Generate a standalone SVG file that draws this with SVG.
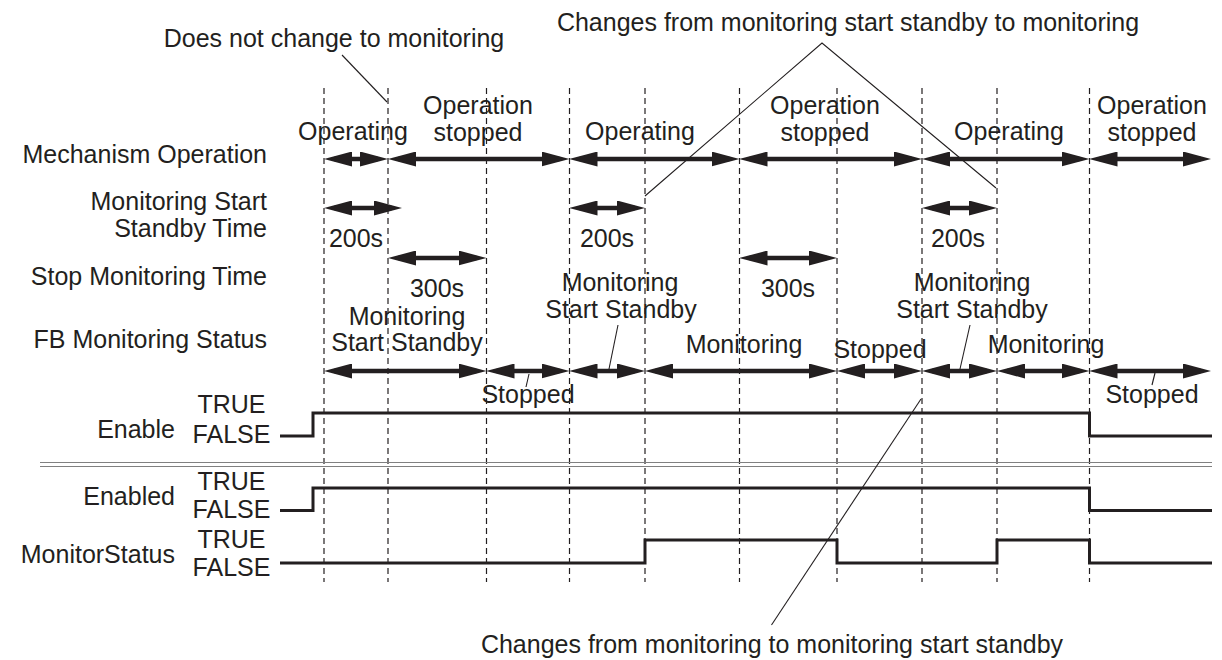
<svg xmlns="http://www.w3.org/2000/svg" width="1222" height="660" viewBox="0 0 1222 660">
<style>
text{font-family:"Liberation Sans",Arial,Helvetica,sans-serif;font-size:25px;fill:#231f20}
.m{text-anchor:middle}
.e{text-anchor:end}
.dash{stroke:#231f20;stroke-width:1.2;stroke-dasharray:6 4;fill:none}
.arr{stroke:#231f20;stroke-width:4.5;fill:none;marker-start:url(#ahs);marker-end:url(#ahe)}
.sig{stroke:#231f20;stroke-width:3;fill:none}
.lead{stroke:#231f20;stroke-width:1.1;fill:none}
.sep{stroke:#808080;stroke-width:1.2}
</style>
<defs>
<marker id="ahe" viewBox="0 0 28 15" refX="18" refY="7.5" markerWidth="28" markerHeight="15" markerUnits="userSpaceOnUse" orient="auto"><path d="M0,0 L28,7.5 L0,15 z" fill="#231f20"/></marker>
<marker id="ahs" viewBox="0 0 28 15" refX="10" refY="7.5" markerWidth="28" markerHeight="15" markerUnits="userSpaceOnUse" orient="auto"><path d="M28,0 L0,7.5 L28,15 z" fill="#231f20"/></marker>
</defs>

<g id="grid">
<line class="dash" x1="324" y1="88" x2="324" y2="582"/>
<line class="dash" x1="388" y1="88" x2="388" y2="582"/>
<line class="dash" x1="486.5" y1="88" x2="486.5" y2="582"/>
<line class="dash" x1="569.5" y1="88" x2="569.5" y2="582"/>
<line class="dash" x1="645" y1="88" x2="645" y2="582"/>
<line class="dash" x1="739.5" y1="88" x2="739.5" y2="582"/>
<line class="dash" x1="837" y1="88" x2="837" y2="582"/>
<line class="dash" x1="922" y1="88" x2="922" y2="582"/>
<line class="dash" x1="997" y1="88" x2="997" y2="582"/>
<line class="dash" x1="1089.5" y1="88" x2="1089.5" y2="582"/>
</g>

<g id="row-labels">
<text class="e" x="267" y="163">Mechanism Operation</text>
<text class="e" x="267" y="210">Monitoring Start</text>
<text class="e" x="267" y="237">Standby Time</text>
<text class="e" x="267" y="285">Stop Monitoring Time</text>
<text class="e" x="267" y="348">FB Monitoring Status</text>
<text class="e" x="175" y="438">Enable</text>
<text class="e" x="175" y="505">Enabled</text>
<text class="e" x="175" y="563">MonitorStatus</text>
<text class="m" x="231.5" y="413">TRUE</text>
<text class="m" x="231.5" y="443">FALSE</text>
<text class="m" x="231.5" y="490">TRUE</text>
<text class="m" x="231.5" y="518">FALSE</text>
<text class="m" x="231.5" y="548">TRUE</text>
<text class="m" x="231.5" y="576">FALSE</text>
</g>

<g id="mechanism-operation">
<text class="m" x="353" y="140">Operating</text>
<text class="m" x="478" y="114">Operation</text>
<text class="m" x="478" y="141">stopped</text>
<text class="m" x="640" y="140">Operating</text>
<text class="m" x="825" y="114">Operation</text>
<text class="m" x="825" y="141">stopped</text>
<text class="m" x="1009" y="140">Operating</text>
<text class="m" x="1152" y="114">Operation</text>
<text class="m" x="1152" y="141">stopped</text>
</g>

<g id="standby-time">
<text class="m" x="356" y="247">200s</text>
<text class="m" x="607" y="247">200s</text>
<text class="m" x="958" y="247">200s</text>
</g>

<g id="stop-monitoring-time">
<text class="m" x="437" y="297">300s</text>
<text class="m" x="788" y="297">300s</text>
</g>

<g id="fb-status">
<text class="m" x="407" y="325">Monitoring</text>
<text class="m" x="407" y="351">Start Standby</text>
<text class="m" x="528" y="403">Stopped</text>
<text class="m" x="620" y="291">Monitoring</text>
<text class="m" x="621" y="318">Start Standby</text>
<text class="m" x="744" y="353">Monitoring</text>
<text class="m" x="880" y="358">Stopped</text>
<text class="m" x="972" y="291">Monitoring</text>
<text class="m" x="972" y="318">Start Standby</text>
<text class="m" x="1046" y="353">Monitoring</text>
<text class="m" x="1152" y="403">Stopped</text>
</g>

<g id="annotations">
<text class="m" x="334" y="47">Does not change to monitoring</text>
<text class="m" x="848" y="31">Changes from monitoring start standby to monitoring</text>
<text class="m" x="772" y="653">Changes from monitoring to monitoring start standby</text>
</g>

<g id="separator">
<line class="sep" x1="40" y1="462.5" x2="1212" y2="462.5"/>
<line class="sep" x1="40" y1="466.5" x2="1212" y2="466.5"/>
</g>

<g id="connectors">
<line class="arr" x1="334" y1="159" x2="378" y2="159"/>
<line class="arr" x1="398" y1="159" x2="559.5" y2="159"/>
<line class="arr" x1="579.5" y1="159" x2="729.5" y2="159"/>
<line class="arr" x1="749.5" y1="159" x2="912" y2="159"/>
<line class="arr" x1="932" y1="159" x2="1079.5" y2="159"/>
<line class="arr" x1="1099.5" y1="159" x2="1201" y2="159"/>

<line class="arr" x1="334" y1="208" x2="392" y2="208"/>
<line class="arr" x1="579.5" y1="208" x2="635" y2="208"/>
<line class="arr" x1="932" y1="208" x2="987" y2="208"/>

<line class="arr" x1="398" y1="258" x2="476.5" y2="258"/>
<line class="arr" x1="749.5" y1="258" x2="827" y2="258"/>

<line class="arr" x1="334" y1="371" x2="476.5" y2="371"/>
<line class="arr" x1="496.5" y1="371" x2="559.5" y2="371"/>
<line class="arr" x1="579.5" y1="371" x2="635" y2="371"/>
<line class="arr" x1="655" y1="371" x2="827" y2="371"/>
<line class="arr" x1="847" y1="371" x2="912" y2="371"/>
<line class="arr" x1="932" y1="371" x2="987" y2="371"/>
<line class="arr" x1="1007" y1="371" x2="1079.5" y2="371"/>
<line class="arr" x1="1099.5" y1="371" x2="1201" y2="371"/>

<path class="sig" d="M280,436 H313 V413 H1089.5 V436 H1212"/>
<path class="sig" d="M280,510.5 H313 V488 H1089.5 V510.5 H1212"/>
<path class="sig" d="M280,563 H645 V540 H837 V563 H997 V540 H1089.5 V563 H1212"/>

<line class="lead" x1="342" y1="55" x2="387" y2="102"/>
<polyline class="lead" points="645,196 822,43 996,188"/>
<line class="lead" x1="618" y1="325" x2="609" y2="369"/>
<line class="lead" x1="970" y1="325" x2="960" y2="369"/>
<line class="lead" x1="529" y1="374" x2="526" y2="387"/>
<line class="lead" x1="1155" y1="373" x2="1152" y2="385"/>
<line class="lead" x1="921" y1="399" x2="771.5" y2="625"/>
</g>
</svg>
